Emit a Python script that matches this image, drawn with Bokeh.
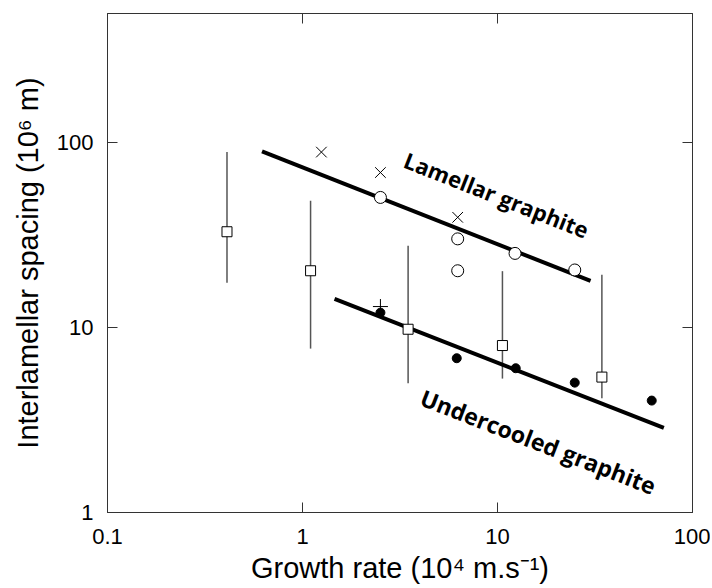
from bokeh.plotting import figure
from bokeh.models import LogAxis, FixedTicker, Label
from bokeh.embed import file_html
from bokeh.resources import INLINE

# --- data ---
sq_x = [0.41, 1.10, 3.48, 10.6, 34.3]
sq_y = [33.0, 20.3, 9.8, 8.0, 5.4]
sq_lo = [17.5, 7.7, 5.0, 5.3, 4.15]
sq_hi = [89.0, 48.6, 27.7, 20.2, 19.3]

x_mark_x = [1.25, 2.51, 6.25]
x_mark_y = [89.0, 69.0, 39.5]

open_c_x = [2.51, 6.25, 6.25, 12.3, 24.9]
open_c_y = [50.6, 30.2, 20.3, 25.2, 20.5]

plus_x = [2.51]
plus_y = [13.0]

fill_c_x = [2.51, 6.18, 12.4, 24.9, 61.8]
fill_c_y = [12.05, 6.83, 6.03, 5.04, 4.03]

lam_fit_x = [0.62, 30.0]
lam_fit_y = [89.8, 17.9]
und_fit_x = [1.46, 71.3]
und_fit_y = [14.3, 2.87]

x_ticks = [0.1, 1, 10, 100]
x_tick_labels = ["0.1", "1", "10", "100"]
y_ticks = [1, 10, 100]
y_tick_labels = ["1", "10", "100"]

FONT = "Liberation Sans"

p = figure(width=710, height=586, x_axis_type="log", y_axis_type="log",
           x_range=(0.1, 100), y_range=(1, 500),
           output_backend="svg", toolbar_location=None,
           min_border_left=107, min_border_right=18, min_border_top=13,
           min_border_bottom=74)
p.grid.visible = False
p.outline_line_color = "#555555"
p.outline_line_width = 1
p.background_fill_color = "white"
p.border_fill_color = "white"

def style_axis(ax, ticks, labels, show_labels):
    ax.ticker = FixedTicker(ticks=ticks)
    ax.major_tick_in = 10
    ax.major_tick_out = 0
    ax.minor_tick_line_color = None
    ax.major_tick_line_color = "#333333"
    ax.axis_line_color = "#333333"
    if show_labels:
        ax.major_label_overrides = {t: l for t, l in zip(ticks, labels)}
        ax.major_label_text_font = FONT
        ax.major_label_text_font_size = "22px"
        ax.major_label_text_color = "black"
    else:
        ax.major_label_text_font_size = "0px"
        ax.major_label_text_color = None

xa = p.xaxis[0]
ya = p.yaxis[0]
style_axis(xa, x_ticks, x_tick_labels, True)
style_axis(ya, y_ticks, y_tick_labels, True)
xa.major_label_standoff = 16
ya.major_label_standoff = 14
xa.axis_label = "Growth rate (10\u2074 m.s\u207B\u00B9)"
ya.axis_label = "Interlamellar spacing (10\u2076 m)"
for ax in (xa, ya):
    ax.axis_label_text_font = FONT
    ax.axis_label_text_font_size = "29px"
    ax.axis_label_text_font_style = "normal"
    ax.axis_label_text_color = "black"
xa.axis_label_standoff = 5
ya.axis_label_standoff = 10

top = LogAxis()
style_axis(top, x_ticks, x_tick_labels, False)
p.add_layout(top, "above")
right = LogAxis()
style_axis(right, y_ticks, y_tick_labels, False)
p.add_layout(right, "right")

# error bars
p.segment(x0=sq_x, y0=sq_lo, x1=sq_x, y1=sq_hi, line_color="#555555", line_width=1.5)
# fits
p.line(lam_fit_x, lam_fit_y, line_color="black", line_width=4)
p.line(und_fit_x, und_fit_y, line_color="black", line_width=4)
# markers
p.scatter(sq_x, sq_y, marker="square", size=10, fill_color="white", line_color="black", line_width=1)
p.scatter(x_mark_x, x_mark_y, marker="x", size=15, line_color="black", line_width=1)
p.scatter(open_c_x, open_c_y, marker="circle", size=12, fill_color="white", line_color="black", line_width=1)
p.scatter(plus_x, plus_y, marker="cross", size=15, line_color="black", line_width=1)
p.scatter(fill_c_x, fill_c_y, marker="circle", size=9, fill_color="black", line_color="black")

# annotations
p.add_layout(Label(x=9.9, y=52.4, text="Lamellar graphite", angle=-0.375,
                   text_align="center", text_baseline="middle",
                   text_font="Open Sans", text_font_style="bold",
                   text_font_size="22px", text_color="black"))
p.add_layout(Label(x=16.2, y=2.42, text="Undercooled graphite", angle=-0.37,
                   text_align="center", text_baseline="middle",
                   text_font="Open Sans", text_font_style="bold",
                   text_font_size="23px", text_color="black"))

open("out.html", "w").write(file_html(p, INLINE))
